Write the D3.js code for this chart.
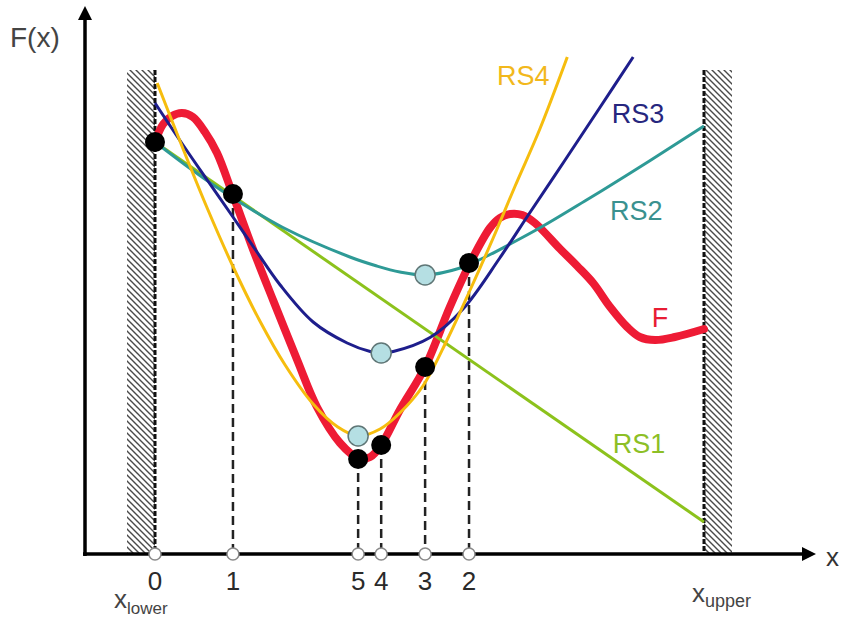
<!DOCTYPE html>
<html>
<head>
<meta charset="utf-8">
<script src="https://cdn.jsdelivr.net/npm/d3@7"></script>
<style>
body { margin: 0; background: #fff; }
text { font-family: "Liberation Sans", Arial, sans-serif; }
</style>
</head>
<body>
<div id="chart"></div>
<script>
// values
// x runs from x_lower (0) to x_upper (100), F(x) in the same kind of units
//---------------------------------------------------------------------------
var fCurve = [[0, 82.4], [1.5, 86.0], [3.1, 87.6], [4.9, 88.2], [6.9, 87.4], [9.1, 84.4],
              [11.3, 80.2], [14.2, 71.8], [17.9, 60.8], [21.5, 50.8], [25.9, 38.8], [29.5, 29.4],
              [33.7, 22.2], [37.0, 19.2], [39.2, 19.4], [41.2, 21.8], [44.6, 28.8], [49.2, 37.4],
              [53.7, 49.4], [57.4, 58.2], [61.0, 65.2], [62.8, 67.2], [64.7, 68.0], [66.9, 67.8],
              [69.2, 66.2], [73.8, 61.0], [76.9, 57.6], [79.8, 54.2], [82.9, 49.4], [86.0, 45.4],
              [88.3, 43.4], [91.1, 42.8], [94.7, 43.4], [100, 45.0]];

var rs1 = [[0, 82.4], [100, 6.4]];

var rs2 = [[0, 82.4], [6.4, 77.1], [11.3, 73.3], [14.2, 71.2], [23.3, 65.3], [35.5, 59.4],
           [40.4, 57.6], [44.6, 56.4], [49.2, 55.8], [55.6, 57.2], [60.5, 59.6], [64.7, 62.0],
           [70.7, 65.6], [78.3, 70.6], [86.0, 75.8], [92.9, 80.6], [100, 85.6]];

var rs3 = [[0, 90.2], [5.1, 81.8], [9.7, 74.5], [14.2, 67.4], [18.2, 61.0], [22.8, 53.8],
           [28.8, 46.4], [35.0, 42.2], [39.2, 40.5], [41.2, 40.2], [43.4, 40.5], [50.1, 43.3],
           [56.1, 49.0], [62.8, 59.2], [68.3, 68.3], [74.7, 78.8], [81.1, 89.4], [87.1, 99.4]];

var rs4 = [[0.4, 94.2], [4.9, 81.6], [9.5, 69.2], [14.2, 57.5], [19.1, 46.6], [23.7, 37.8],
           [28.8, 30.0], [33.3, 25.4], [37.0, 23.6], [41.0, 25.0], [44.6, 28.2], [48.8, 33.6],
           [53.2, 42.8], [57.4, 52.8], [61.6, 63.2], [65.6, 73.6], [70.1, 85.0], [75.1, 99.4]];

// sample points (black) and their numbers on the x axis
var sampleX = [0, 14.2, 37.0, 41.2, 49.2, 57.2];
var sampleF = [82.4, 72.0, 19.0, 21.8, 37.4, 58.2];
var sampleLabels = ["0", "1", "5", "4", "3", "2"];

// minima of the response surfaces (light blue)
var minNames = ["RS2", "RS3", "RS4"];
var minX = [49.2, 41.2, 37.0];
var minY = [55.8, 40.2, 23.6];

var wallTop = 96.8;

// Drawing
//---------------------------------------------------------------------------
var width = 844, height = 622;
var axisX = 85;     // vertical axis position
var wallW = 28;     // width of the hatched walls

var x = d3.scaleLinear().domain([0, 100]).range([155, 704]);
var y = d3.scaleLinear().domain([0, 100]).range([554, 54]);

var svg = d3.select("#chart").append("svg")
    .attr("width", width)
    .attr("height", height);

var defs = svg.append("defs");
var pat = defs.append("pattern")
    .attr("id", "hatch")
    .attr("patternUnits", "userSpaceOnUse")
    .attr("width", 6)
    .attr("height", 6);
pat.append("path")
    .attr("d", "M-1,-1 L7,7 M-1,5 L1,7 M5,-1 L7,1")
    .attr("stroke", "#4a4a4a")
    .attr("stroke-width", 1.4);

// hatched walls at x_lower and x_upper
svg.append("rect")
    .attr("x", x(0) - wallW).attr("y", y(wallTop))
    .attr("width", wallW).attr("height", y(0) - y(wallTop))
    .attr("fill", "url(#hatch)");
svg.append("rect")
    .attr("x", x(100)).attr("y", y(wallTop))
    .attr("width", wallW).attr("height", y(0) - y(wallTop))
    .attr("fill", "url(#hatch)");
[0, 100].forEach(function(v) {
    svg.append("line")
        .attr("x1", x(v)).attr("x2", x(v))
        .attr("y1", y(wallTop)).attr("y2", y(0))
        .attr("stroke", "#111")
        .attr("stroke-width", 3)
        .attr("stroke-dasharray", "5,2");
});

// dashed lines from the highest marker down to the axis
sampleX.forEach(function(sx, i) {
    if (i == 0) return; // wall edge already there
    var top = sampleF[i];
    minX.forEach(function(mx, j) {
        if (mx == sx && minY[j] < top) top = minY[j];
    });
    svg.append("line")
        .attr("x1", x(sx)).attr("x2", x(sx))
        .attr("y1", y(top)).attr("y2", y(0))
        .attr("stroke", "#222")
        .attr("stroke-width", 2.5)
        .attr("stroke-dasharray", "9,5");
});

// axes with arrows
svg.append("line")
    .attr("x1", axisX).attr("x2", axisX)
    .attr("y1", y(0) + 2).attr("y2", 16)
    .attr("stroke", "#000").attr("stroke-width", 3.5);
svg.append("path")
    .attr("d", "M" + axisX + ",6 L" + (axisX - 7) + ",20 L" + (axisX + 7) + ",20 Z")
    .attr("fill", "#000");
svg.append("line")
    .attr("x1", axisX - 2).attr("x2", 806)
    .attr("y1", y(0)).attr("y2", y(0))
    .attr("stroke", "#000").attr("stroke-width", 3.5);
svg.append("path")
    .attr("d", "M816," + y(0) + " L802," + (y(0) - 7) + " L802," + (y(0) + 7) + " Z")
    .attr("fill", "#000");

// curves
var line = d3.line()
    .x(function(d) { return x(d[0]); })
    .y(function(d) { return y(d[1]); })
    .curve(d3.curveCatmullRom.alpha(0.5));

svg.append("path").datum(fCurve)
    .attr("d", line)
    .attr("fill", "none")
    .attr("stroke", "#ee1b35")
    .attr("stroke-width", 8)
    .attr("stroke-linecap", "round");

var series = [
    {data: rs1, color: "#8cc21c"},
    {data: rs2, color: "#2e9a96"},
    {data: rs3, color: "#1e1e8c"},
    {data: rs4, color: "#f6bd0e"}
];
series.forEach(function(s) {
    svg.append("path").datum(s.data)
        .attr("d", line)
        .attr("fill", "none")
        .attr("stroke", s.color)
        .attr("stroke-width", 3);
});

// markers
svg.selectAll(".mins")
    .data(minX).enter()
    .append("circle")
    .attr("cx", function(d) { return x(d); })
    .attr("cy", function(d, i) { return y(minY[i]); })
    .attr("r", 10)
    .attr("fill", "#b5dfe3")
    .attr("stroke", "#5f7676")
    .attr("stroke-width", 1.5);

svg.selectAll(".samples")
    .data(sampleX).enter()
    .append("circle")
    .attr("cx", function(d) { return x(d); })
    .attr("cy", function(d, i) { return y(sampleF[i]); })
    .attr("r", 10)
    .attr("fill", "#000");

svg.selectAll(".ticks")
    .data(sampleX).enter()
    .append("circle")
    .attr("cx", function(d) { return x(d); })
    .attr("cy", y(0))
    .attr("r", 6)
    .attr("fill", "#fff")
    .attr("stroke", "#8a8a8a")
    .attr("stroke-width", 1.5);

svg.selectAll(".tickLabel")
    .data(sampleLabels).enter()
    .append("text")
    .attr("x", function(d, i) { return x(sampleX[i]); })
    .attr("y", 590)
    .attr("text-anchor", "middle")
    .attr("font-size", "26px")
    .attr("fill", "#2a2a2a")
    .text(function(d) { return d; });

// curve labels
var labels = [
    {t: "RS4", x: 62.3, y: 93.8, c: "#f2b81c"},
    {t: "RS3", x: 83.2, y: 86.2, c: "#26267e"},
    {t: "RS2", x: 82.9, y: 66.8, c: "#3a918f"},
    {t: "F",   x: 90.5, y: 45.4, c: "#e81c33"},
    {t: "RS1", x: 83.4, y: 20.2, c: "#8dbf26"}
];
svg.selectAll(".curveLabel")
    .data(labels).enter()
    .append("text")
    .attr("x", function(d) { return x(d.x); })
    .attr("y", function(d) { return y(d.y); })
    .attr("font-size", "27px")
    .attr("fill", function(d) { return d.c; })
    .text(function(d) { return d.t; });

// axis titles
svg.append("text")
    .attr("x", 10).attr("y", 47)
    .attr("font-size", "28px")
    .attr("fill", "#444")
    .text("F(x)");
svg.append("text")
    .attr("x", 826).attr("y", 566)
    .attr("font-size", "26px")
    .attr("fill", "#333")
    .text("x");

var lower = svg.append("text")
    .attr("x", 114).attr("y", 608)
    .attr("font-size", "26px")
    .attr("fill", "#444");
lower.append("tspan").text("x");
lower.append("tspan").attr("font-size", "17px").attr("dy", 6).text("lower");

var upper = svg.append("text")
    .attr("x", 692).attr("y", 602)
    .attr("font-size", "26px")
    .attr("fill", "#444");
upper.append("tspan").text("x");
upper.append("tspan").attr("font-size", "18px").attr("dy", 5).text("upper");
</script>
</body>
</html>
